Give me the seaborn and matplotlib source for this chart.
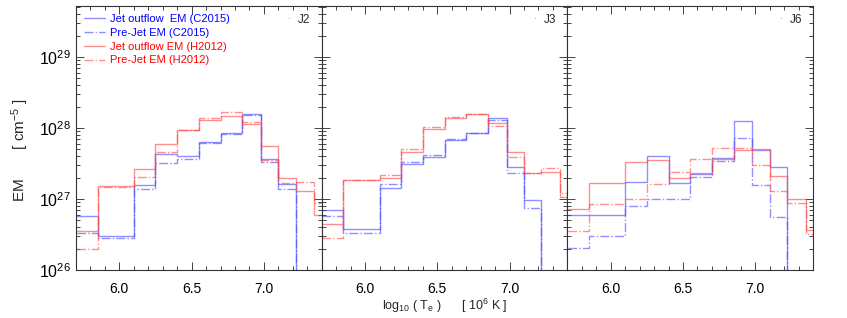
import numpy as np
import pandas as pd
import matplotlib
matplotlib.use("Agg")
import matplotlib.pyplot as plt
import seaborn as sns
from matplotlib.ticker import MultipleLocator, LogLocator, NullFormatter

# Styling
sns.set_theme(style="ticks")
plt.rcParams['font.family'] = ['Liberation Sans', 'DejaVu Sans']
plt.rcParams['mathtext.fontset'] = 'custom'
plt.rcParams['mathtext.rm'] = 'Liberation Sans'
plt.rcParams['mathtext.it'] = 'Liberation Sans'

# ------------------ DATA ------------------ #
# log10(T) bin edges
edges = [5.6, 5.85, 6.1, 6.25, 6.4, 6.55, 6.7, 6.85, 6.98, 7.1, 7.22, 7.35, 7.5]

# EM values per bin [cm^-5]; 0 = empty bin
j2_jet_c = [5.7e26, 3.0e26, 1.57e27, 4.3e27, 4.07e27, 6.3e27, 8.4e27, 1.55e28, 3.6e27, 1.6e27, 0, 0]
j2_pre_c = [3.35e26, 2.8e26, 1.37e27, 3.2e27, 3.7e27, 6.1e27, 8.2e27, 1.5e28, 3.3e27, 1.38e27, 0, 0]
j2_jet_h = [3.5e26, 1.5e27, 2.64e27, 6.0e27, 9.5e27, 1.28e28, 1.48e28, 1.14e28, 5.5e27, 2.0e27, 1.3e27, 5.9e26]
j2_pre_h = [2.0e26, 1.48e27, 2.05e27, 4.55e27, 9.3e27, 1.36e28, 1.7e28, 1.2e28, 3.55e27, 1.7e27, 1.72e27, 8.7e26]

j3_jet_c = [6.9e26, 3.8e26, 1.41e27, 3.1e27, 3.9e27, 6.8e27, 8.6e27, 1.4e28, 2.8e27, 9.7e26, 0, 0]
j3_pre_c = [5.8e26, 3.3e26, 1.64e27, 3.3e27, 4.1e27, 7.0e27, 8.5e27, 1.3e28, 2.35e27, 7.4e26, 0, 0]
j3_jet_h = [4.45e26, 1.82e27, 2.0e27, 4.65e27, 9.7e27, 1.37e28, 1.57e28, 1.17e28, 4.65e27, 2.35e27, 2.43e27, 1.05e27]
j3_pre_h = [2.8e26, 1.86e27, 2.15e27, 5.05e27, 1.03e28, 1.42e28, 1.57e28, 1.07e28, 3.9e27, 2.3e27, 2.7e27, 1.2e27]

j6_jet_c = [5.9e26, 5.9e26, 1.72e27, 4.03e27, 1.7e27, 2.24e27, 3.8e27, 1.26e28, 4.9e27, 2.8e27, 0, 0]
j6_pre_c = [2.06e26, 3.04e26, 8.0e26, 9.9e26, 9.9e26, 2.04e27, 3.4e27, 7.2e27, 1.58e27, 5.5e26, 0, 0]
j6_jet_h = [7.3e26, 1.66e27, 3.3e27, 3.5e27, 1.95e27, 2.35e27, 3.7e27, 4.9e27, 5.0e27, 2.1e27, 9.9e26, 3.6e26]
j6_pre_h = [3.5e26, 8.6e26, 9.9e26, 1.6e27, 2.43e27, 3.7e27, 5.3e27, 5.3e27, 3.0e27, 1.3e27, 8.9e26, 3.2e26]

panel_names = ["J2", "J3", "J6"]
series_labels = ["Jet outflow  EM (C2015)", "Pre-Jet EM (C2015)",
                 "Jet outflow EM (H2012)", "Pre-Jet EM (H2012)"]
panels = [
    [j2_jet_c, j2_pre_c, j2_jet_h, j2_pre_h],
    [j3_jet_c, j3_pre_c, j3_jet_h, j3_pre_h],
    [j6_jet_c, j6_pre_c, j6_jet_h, j6_pre_h],
]

edges_arr = np.array(edges)
centers = (edges_arr[:-1] + edges_arr[1:]) / 2

styles = [("#4444ff", "-"), ("#4444ff", "-."), ("#ff4444", "-"), ("#ff4444", "-.")]

# ------------------ PLOT ------------------ #
fig, axes = plt.subplots(1, 3, figsize=(8.47, 3.18), dpi=100, sharey=True)
fig.subplots_adjust(left=0.0897, right=0.96, top=0.981, bottom=0.151, wspace=0.0)

for ax, name, series in zip(axes, panel_names, panels):
    for vals, label, (col, ls) in zip(series, series_labels, styles):
        df = pd.DataFrame({"logT": centers, "EM": vals})
        sns.histplot(data=df, x="logT", weights="EM", bins=edges, element="step",
                     fill=False, color=col, linestyle=ls, linewidth=1.0, alpha=0.6,
                     label=label, ax=ax)
    ax.set_yscale("log")
    ax.set_xlim(5.7, 7.4)
    ax.set_ylim(1e26, 5.2e29)
    ax.set_xlabel("")
    ax.set_ylabel("")
    ax.xaxis.set_minor_locator(MultipleLocator(0.1))
    ax.set_xticks([6.0, 6.5, 7.0])
    ax.set_xticklabels(["6.0", "6.5", "7.0"])
    ax.yaxis.set_minor_locator(LogLocator(base=10, subs=np.arange(2, 10), numticks=10))
    ax.yaxis.set_minor_formatter(NullFormatter())
    ax.tick_params(which="both", direction="in", top=True, right=True, colors="#444444",
                   labelcolor="black", labelsize=10, width=0.7)
    ax.tick_params(which="major", length=6)
    ax.tick_params(which="minor", length=3)
    ax.tick_params(axis="x", pad=9)
    for sp in ax.spines.values():
        sp.set_color("#333333")
        sp.set_linewidth(0.8)
    ax.text(0.87, 0.948, "\u00b7", transform=ax.transAxes, fontsize=6, color="gray",
            ha="center", va="center")
    ax.text(0.905, 0.948, name, transform=ax.transAxes, fontsize=8.5, ha="left", va="center")

axes[0].set_yticks([1e26, 1e27, 1e28, 1e29])
axes[0].set_yticklabels([r"10$^{26}$", r"10$^{27}$", r"10$^{28}$", r"10$^{29}$"])
axes[0].tick_params(axis="y", labelsize=11.5)
for ax in axes[1:]:
    ax.tick_params(axis="y", labelleft=False)

axes[0].set_ylabel(r"EM       [ cm$^{-5}$ ]", fontsize=11)
axes[0].yaxis.set_label_coords(-0.185, 0.455)
axes[1].set_xlabel(r"log$_{10}$ ( T$_e$ )      [ 10$^6$ K ]", fontsize=9)
axes[1].xaxis.set_label_coords(0.5, -0.1)

leg = axes[0].legend(loc="upper left", frameon=False, fontsize=8, handlelength=1.9,
                     handletextpad=0.5, labelspacing=0.35, borderaxespad=0.3,
                     labelcolor=["blue", "blue", "red", "red"])

plt.savefig("out.png", dpi=100)
